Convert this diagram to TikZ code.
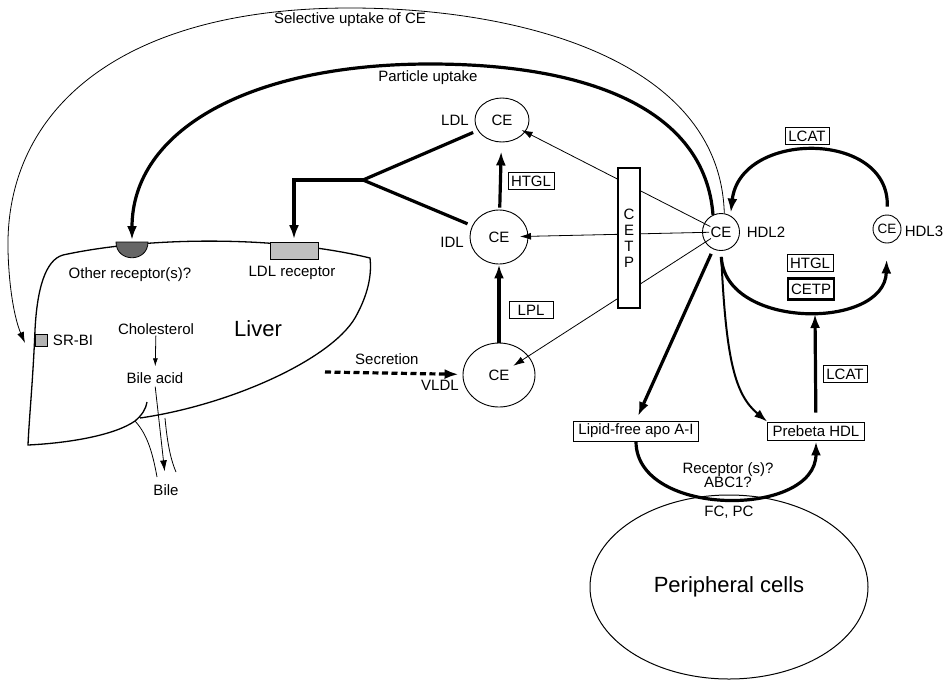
\documentclass[tikz,border=0pt]{standalone}
\usepackage{fontspec}
\setmainfont{Liberation Sans}
\usetikzlibrary{arrows.meta,shapes,positioning,calc}
\newcommand{\lblfont}{\fontsize{15}{16}\selectfont}
\newcommand{\bigpfont}{\fontsize{22}{24}\selectfont}
\tikzset{
    particle/.style = {draw, ellipse, line width=0.9pt, inner sep=0pt, font=\lblfont},
    hdl/.style = {draw, circle, line width=0.9pt, inner sep=0pt, font=\lblfont},
    enzyme/.style = {draw, rectangle, line width=0.9pt, inner sep=3pt,
        minimum width=44pt, minimum height=17pt, font=\lblfont},
    tag/.style = {font=\lblfont, inner sep=1pt},
    heavy/.style = {line width=3.2pt},
    medium/.style = {line width=2pt},
    fine/.style = {line width=0.8pt},
    bigtip/.style = {-{Latex[length=14pt,width=10pt]}},
    midtip/.style = {-{Latex[length=13pt,width=9pt]}},
    smalltip/.style = {-{Latex[length=11pt,width=7pt]}},
    tinytip/.style = {-{Latex[length=8pt,width=5pt]}}
}

\begin{document}
\begin{tikzpicture}[x=1pt, y=-1pt, auto, node distance=40pt]
    \useasboundingbox (0,0) rectangle (948,681);
    % liver
    \draw[line width=1.3pt] (140,418) .. controls (230,405) and (330,360) .. (355,318)
        .. controls (368,295) and (372,275) .. (370,258)
        .. controls (280,236) and (150,236) .. (63,255)
        .. controls (45,260) and (37,290) .. (35,330)
        .. controls (33,380) and (29,420) .. (28,445)
        .. controls (70,443) and (115,435) .. (135,421)
        .. controls (142,415) and (146,409) .. (147,402);
    \draw[fine] (135,421) .. controls (148,435) and (153,455) .. (157,477);
    \draw[fine] (165,418) .. controls (167,440) and (170,458) .. (176,472);
    \filldraw[fill=black!60, line width=0.8pt] (116,242) .. controls (116,263) and (148,263) .. (148,242) -- cycle;
    \coordinate (othrec) at (132,242);
    \node[draw, fine, fill=black!25, minimum width=48pt, minimum height=17pt, inner sep=0pt] (ldlrec) at (294,251) {};
    \node[draw, fine, fill=black!30, minimum size=12pt, inner sep=0pt] (srbi) at (41,340) {};
    \node[tag] (otherlab) at (130,275) {Other receptor(s)?};
    \node[tag] (ldlreclab) at (292,273) {LDL receptor};
    \node[tag] (srbilab) at (73,340) {SR-BI};
    \node[font=\bigpfont] (liver) at (258,329) {Liver};
    \node[tag] (chol) at (156,329) {Cholesterol};
    \node[tag] (bileacid) at (155,378) {Bile acid};
    \node[tag] (bile) at (166,490) {Bile};
    \draw[fine, tinytip, shorten >=5pt] (chol) -- (bileacid);
    \draw[fine, smalltip, shorten <=2pt, shorten >=12pt] (bileacid.south) -- (bile.north);

    % lipoproteins
    \node[particle, minimum width=54pt, minimum height=44pt] (ldl) at (502,120) {CE};
    \node[particle, minimum width=58pt, minimum height=54pt] (idl) at (499,237) {CE};
    \node[particle, minimum width=72pt, minimum height=64pt] (vldl) at (499,375) {CE};
    \node[hdl, minimum size=37pt] (hdl2) at (721,232) {CE};
    \node[hdl, minimum size=28pt, font=\fontsize{13.5}{14}\selectfont] (hdl3) at (887,229) {CE};
    \node[tag, left of=ldl, node distance=47pt] (ldllab) {LDL};
    \node[tag, left of=idl, node distance=47pt, yshift=-5pt] (idllab) {IDL};
    \node[tag, left of=vldl, node distance=59pt, yshift=-10pt] (vldllab) {VLDL};
    \node[tag, right of=hdl2, node distance=45pt] (hdl2lab) {HDL2};
    \node[tag, right of=hdl3, node distance=37pt, yshift=-2pt] (hdl3lab) {HDL3};

    \node[enzyme] (htgla) at (531,181) {HTGL};
    \node[enzyme] (lpl) at (531,310) {LPL};
    \node[enzyme] (lcata) at (807,136) {LCAT};
    \node[enzyme] (htglb) at (810,263) {HTGL};
    \node[enzyme, line width=2.5pt, minimum width=46pt, minimum height=21pt] (cetpb) at (811,289) {CETP};
    \node[enzyme] (lcatb) at (845,374) {LCAT};
    \node[enzyme, inner xsep=5pt, minimum height=18pt] (apoai) at (636,431) {Lipid-free apo A-I};
    \node[enzyme, inner xsep=5pt, minimum height=18pt] (prebeta) at (816,431) {Prebeta HDL};

    \node[draw, ellipse, line width=1pt, minimum width=278pt, minimum height=184pt, font=\bigpfont] (periph) at (729,587) {Peripheral cells};
    \node[tag, align=center, font=\fontsize{15}{14}\selectfont] (reclab) at (728,475) {Receptor (s)?\\ABC1?};
    \node[tag] (fcpc) at (729,512) {FC, PC};

    % transfers
    \draw[fine, smalltip, shorten <=12pt, shorten >=22pt] (hdl2.center) -- (ldl.center);
    \draw[fine, smalltip, shorten <=12pt, shorten >=21pt] (hdl2.center) -- (idl.center);
    \draw[fine, smalltip, shorten <=12pt, shorten >=17pt] (hdl2.center) -- (vldl.center);
    \node[draw, line width=2.5pt, fill=white, minimum width=22pt, minimum height=140pt, inner sep=0pt,
        align=center, font=\fontsize{15}{16}\selectfont] (cetp) at (629,238) {C\\E\\T\\P};

    \draw[heavy, bigtip] (vldl) -- (idl);
    \draw[heavy, bigtip, shorten <=2pt, shorten >=9pt] (idl) -- (ldl);
    \coordinate (fork) at (363,180);
    \draw[heavy, shorten <=5pt, shorten >=5pt] (ldl) -- (fork) -- (idl);
    \draw[heavy, bigtip, shorten >=3pt] (fork) -| (ldlrec.north);

    \coordinate (secstart) at (325,372);
    \draw[heavy, dash pattern=on 6pt off 3.5pt, bigtip, shorten >=4pt] (secstart) -- node[tag, above, pos=0.45, yshift=6pt] (seclab) {Secretion} (vldl);

    % uptake
    \draw[heavy, bigtip, shorten >=2pt] (hdl2.115) .. controls (705,110) and (590,64) .. (430,64)
        .. controls (250,64) and (132,130) .. (othrec);
    \node[tag] (puplab) at (428,78) {Particle uptake};
    \coordinate (srend) at (25,343);
    \draw[fine, smalltip] (hdl2.80) .. controls (720,60) and (520,8) .. (350,8)
        .. controls (120,8) and (5,110) .. (8,250) .. controls (9,290) and (15,320) .. (srend);
    \node[tag] (sulab) at (350,20) {Selective uptake of CE};

    % HDL cycle
    \draw[heavy, bigtip, shorten <=8pt, shorten >=3pt] (hdl3.north) .. controls (890,130) and (740,130) .. (hdl2.60);
    \draw[heavy, bigtip, shorten <=6pt, shorten >=16pt] (hdl2.south) .. controls (725,330) and (885,330) .. (hdl3.south);
    \draw[heavy, bigtip, shorten <=5pt, shorten >=5pt] (hdl2) -- (apoai.north);
    \draw[medium, midtip, shorten <=6pt] (hdl2.south) .. controls (726,360) and (735,395) .. (prebeta.north west);
    \coordinate (lcatend) at (815,314);
    \draw[heavy, bigtip, shorten <=9pt] (prebeta) -- (lcatend);
    \draw[heavy, bigtip, shorten >=1pt] (apoai.south) .. controls (636,518) and (816,518) .. (prebeta.south);
\end{tikzpicture}
\end{document}
